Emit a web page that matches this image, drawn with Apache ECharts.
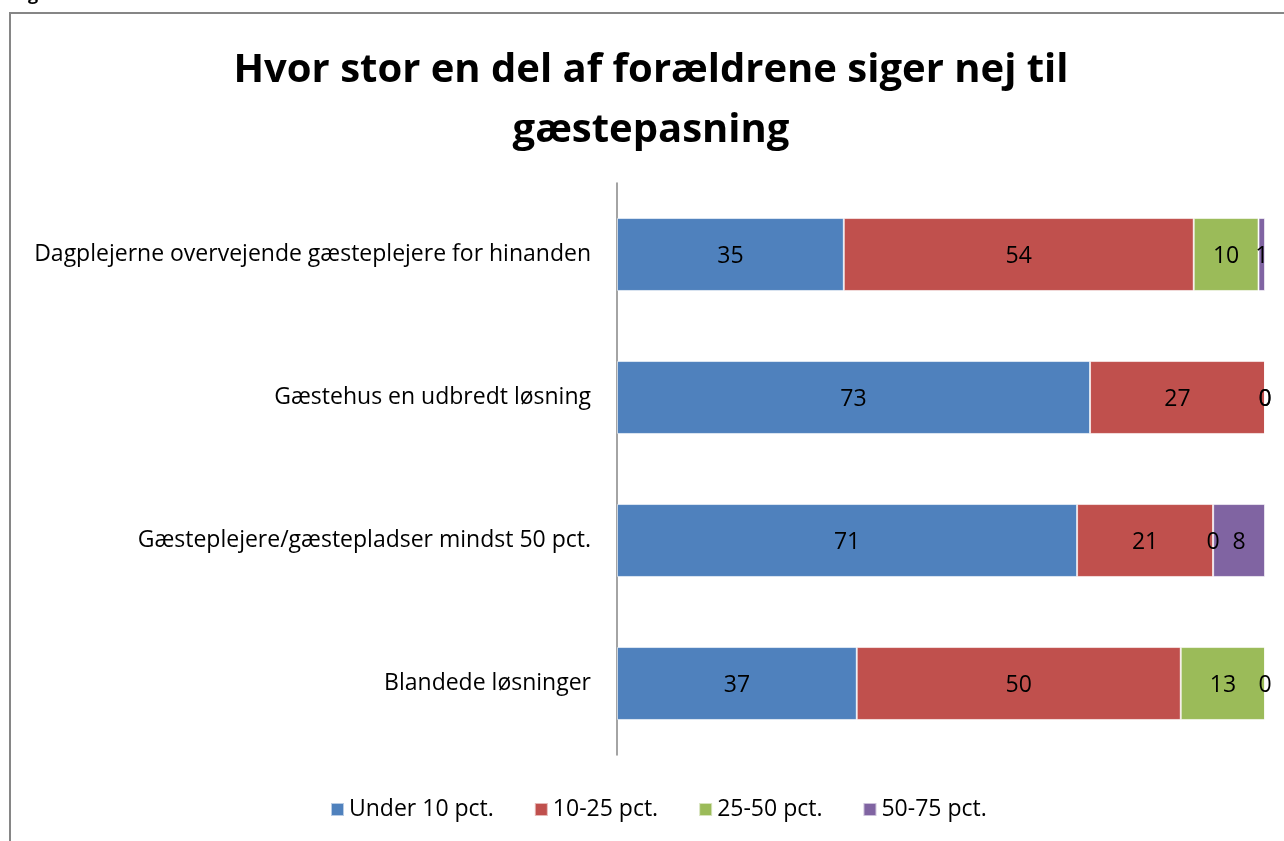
<!DOCTYPE html>
<html>
<head>
<meta charset="utf-8">
<script src="https://cdn.jsdelivr.net/npm/echarts@6/dist/echarts.min.js"></script>
<style>
  html, body { margin: 0; padding: 0; background: #fff; }
  #chart { width: 1284px; height: 841px; }
</style>
</head>
<body>
<div id="chart"></div>
<script>
  const categories = [
    'Dagplejerne overvejende gæsteplejere for hinanden',
    'Gæstehus en udbredt løsning',
    'Gæsteplejere/gæstepladser mindst 50 pct.',
    'Blandede løsninger'
  ];
  const seriesNames = ['Under 10 pct.', '10-25 pct.', '25-50 pct.', '50-75 pct.'];
  const under10 = [35, 73, 71, 37];
  const p10to25 = [54, 27, 21, 50];
  const p25to50 = [10, 0, 0, 13];
  const p50to75 = [1, 0, 8, 0];
  const colors = ['#4F81BD', '#C0504D', '#9BBB59', '#8064A2'];

  const fontFam = '"Open Sans", Lato, sans-serif';
  const chart = echarts.init(document.getElementById('chart'), null, { renderer: 'canvas' });

  const seriesData = [under10, p10to25, p25to50, p50to75];
  const option = {
    animation: false,
    color: colors,
    title: {
      text: 'Hvor stor en del af forældrene siger nej til\ngæstepasning',
      left: 646,
      textAlign: 'center',
      top: 36,
      textStyle: { fontFamily: fontFam, fontSize: 40, fontWeight: 'bold', color: '#000', lineHeight: 60 }
    },
    graphic: [
      {
        type: 'rect',
        shape: { x: 10, y: 13, width: 1400, height: 1000 },
        style: { fill: 'none', stroke: '#868686', lineWidth: 2 }
      },
      {
        type: 'text',
        left: 28, top: -14,
        style: { text: 'g.', font: 'bold 18px ' + fontFam, fill: '#000' }
      }
    ],
    legend: {
      data: seriesNames,
      bottom: 15,
      left: 325,
      itemWidth: 13,
      itemHeight: 13,
      itemGap: 40,
      icon: 'rect',
      textStyle: { fontFamily: fontFam, fontSize: 23, color: '#000' }
    },
    grid: { left: 617, right: 19, top: 183, bottom: 86 },
    xAxis: {
      type: 'value',
      min: 0,
      max: 100,
      show: false
    },
    yAxis: {
      type: 'category',
      data: categories,
      inverse: true,
      axisLine: { show: true, lineStyle: { color: '#868686', width: 1.5 } },
      axisTick: { show: false },
      axisLabel: { fontFamily: fontFam, fontSize: 23, color: '#000', margin: 26, padding: [4, 0, 0, 0] }
    },
    series: seriesNames.map((name, i) => ({
      name: name,
      type: 'bar',
      stack: 'total',
      barWidth: '51%',
      data: seriesData[i],
      itemStyle: { color: colors[i], borderColor: 'rgba(255,255,255,0.6)', borderWidth: 1 },
      label: {
        show: true,
        position: 'inside',
        fontFamily: fontFam,
        fontSize: 23,
        color: '#000',
        offset: [0, 2]
      }
    }))
  };
  chart.setOption(option);
</script>
</body>
</html>
